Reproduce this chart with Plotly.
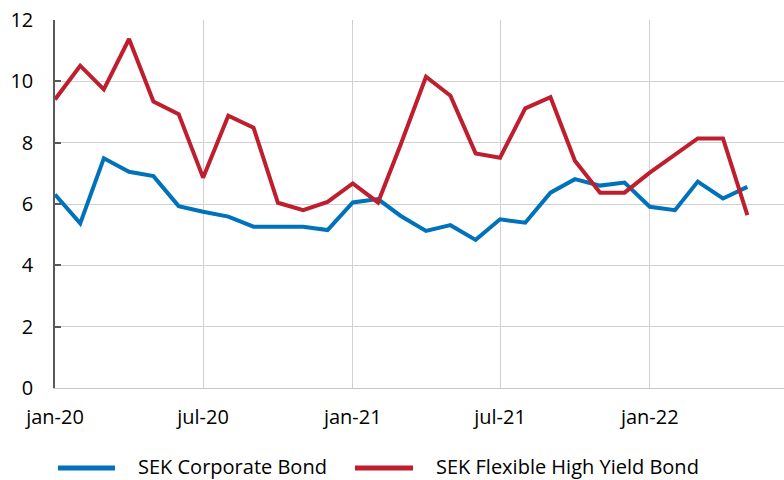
import plotly.graph_objects as go

months = ["2020-01-01", "2020-02-01", "2020-03-01", "2020-04-01", "2020-05-01", "2020-06-01",
          "2020-07-01", "2020-08-01", "2020-09-01", "2020-10-01", "2020-11-01", "2020-12-01",
          "2021-01-01", "2021-02-01", "2021-03-01", "2021-04-01", "2021-05-01", "2021-06-01",
          "2021-07-01", "2021-08-01", "2021-09-01", "2021-10-01", "2021-11-01", "2021-12-01",
          "2022-01-01", "2022-02-01", "2022-03-01", "2022-04-01", "2022-05-01"]

corporate = [6.31, 5.37, 7.49, 7.05, 6.91, 5.93, 5.75, 5.59, 5.26, 5.26, 5.26, 5.15,
             6.05, 6.16, 5.61, 5.12, 5.31, 4.83, 5.50, 5.39, 6.37, 6.81, 6.60, 6.70,
             5.91, 5.80, 6.73, 6.18, 6.56]

high_yield = [9.41, 10.51, 9.74, 11.38, 9.34, 8.93, 6.86, 8.88, 8.49, 6.04, 5.80, 6.07,
              6.67, 6.05, 7.95, 10.15, 9.53, 7.65, 7.51, 9.12, 9.48, 7.41, 6.37, 6.37,
              7.02, 7.63, 8.14, 8.14, 5.64]

tick_vals = ["2020-01-01", "2020-07-01", "2021-01-01", "2021-07-01", "2022-01-01"]
tick_text = ["jan-20", "jul-20", "jan-21", "jul-21", "jan-22"]
y_ticks = [0, 2, 4, 6, 8, 10, 12]

names = ["SEK Corporate Bond", "SEK Flexible High Yield Bond"]
colors = ["#0072bb", "#be1e2d"]

FONT = "Open Sans"
FS = 20

fig = go.Figure()
fig.add_trace(go.Scatter(x=months, y=corporate, mode="lines", name=names[0],
                         line=dict(color=colors[0], width=4), showlegend=False))
fig.add_trace(go.Scatter(x=months, y=high_yield, mode="lines", name=names[1],
                         line=dict(color=colors[1], width=4), showlegend=False))

PL, PT, PR, PB = 55, 20, 784, 388  # plot area in screen pixels
W = PR - PL
H = PB - PT

def px_x(p):
    return (p - PL) / W

def px_y(p):
    return (PB - p) / H

# custom legend drawn in paper coordinates
LEG_Y = 466
legend_items = [(58, 115, 137), (355, 413, 435)]
for (x0, x1, tx), name, col in zip(legend_items, names, colors):
    fig.add_shape(type="line", xref="paper", yref="paper",
                  x0=px_x(x0), x1=px_x(x1), y0=px_y(468), y1=px_y(468),
                  line=dict(color=col, width=5))
    fig.add_annotation(xref="paper", yref="paper", x=px_x(tx), y=px_y(LEG_Y),
                       text=name, showarrow=False, xanchor="left", yanchor="middle",
                       borderpad=0,
                       font=dict(family=FONT, size=FS, color="#000000"))

fig.update_layout(
    width=784, height=480,
    margin=dict(l=PL, r=784 - PR, t=PT, b=480 - PB, pad=0),
    paper_bgcolor="white", plot_bgcolor="white",
    font=dict(family=FONT, size=FS, color="#000000"),
)
fig.update_xaxes(
    type="date", range=["2020-01-01", "2022-06-15"],
    tickvals=tick_vals, ticktext=tick_text,
    showgrid=True, gridcolor="#d0d0d0", gridwidth=1,
    showline=True, linecolor="#c8c8c8", linewidth=1,
    ticks="", ticklabelstandoff=11, zeroline=False,
)
fig.update_yaxes(
    range=[0, 12.0001], tickvals=y_ticks,
    showgrid=True, gridcolor="#d0d0d0", gridwidth=1,
    showline=True, linecolor="#595959", linewidth=1.5,
    ticks="inside", ticklen=6, tickcolor="#595959", tickwidth=1.5,
    ticklabelstandoff=16, zeroline=False,
)

fig.write_html(
    "out.html",
    config={"displayModeBar": False},
    post_script="document.body.style.margin='0';document.documentElement.style.overflow='hidden';",
)
